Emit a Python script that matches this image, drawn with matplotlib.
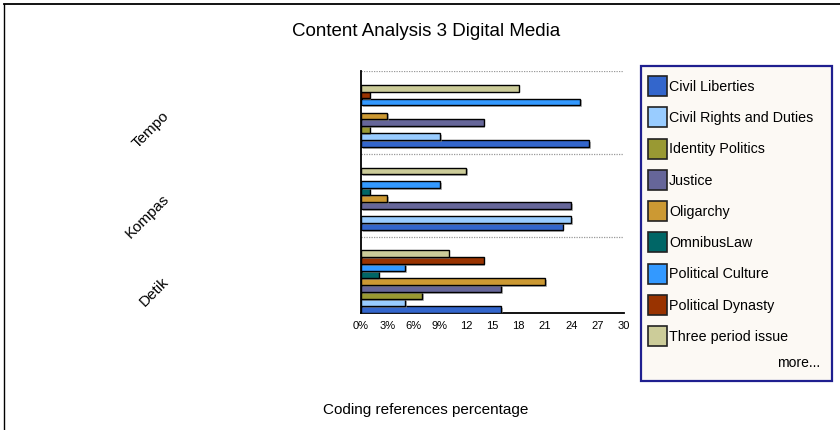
import matplotlib
matplotlib.use("Agg")
import matplotlib.pyplot as plt
from matplotlib.patches import Rectangle
from matplotlib.lines import Line2D
import matplotlib.patheffects as pe
import numpy as np

plt.rcParams['font.family'] = ['Liberation Sans', 'DejaVu Sans']

# ---- data ----
media = ["Detik", "Kompas", "Tempo"]          # bottom -> top
series = ["Civil Liberties", "Civil Rights and Duties", "Identity Politics",
          "Justice", "Oligarchy", "OmnibusLaw", "Political Culture",
          "Political Dynasty", "Three period issue"]
colors = ["#3366CC", "#99CCFF", "#999933", "#666699", "#CC9933",
          "#006666", "#3399FF", "#993300", "#CCCC99"]
civil_liberties = [16, 23, 26]
civil_rights = [5, 24, 9]
identity_politics = [7, 0, 1]
justice = [16, 24, 14]
oligarchy = [21, 3, 3]
omnibus_law = [2, 1, 0]
political_culture = [5, 9, 25]
political_dynasty = [14, 0, 1]
three_period = [10, 12, 18]
values = [civil_liberties, civil_rights, identity_politics, justice, oligarchy,
          omnibus_law, political_culture, political_dynasty, three_period]
xticks = [0, 3, 6, 9, 12, 15, 18, 21, 24, 27, 30]
xticklabels = ["0%", "3%", "6%", "9%", "12", "15", "18", "21", "24", "27", "30"]

W, H = 840, 431
fig = plt.figure(figsize=(W / 100, H / 100), dpi=100)

def fx(px):
    return px / W

def fy(py):
    return 1 - py / H

ax = fig.add_axes([fx(361), fy(314), fx(624) - fx(361), fy(72) - fy(314)])

nslots = 10
slot = 7.0 / 83.5
bar_h = 0.082
shadow = [pe.SimplePatchShadow(offset=(1.2, -1.2), shadow_rgbFace='#888888', alpha=0.6), pe.Normal()]
g = np.arange(len(media))
for s, (name, col, vals) in enumerate(zip(series, colors, values)):
    y = g + (s - (nslots - 1) / 2) * slot
    bars = ax.barh(y, vals, height=bar_h, color=col, edgecolor='black', linewidth=1.0, zorder=3)
    for b in bars:
        if b.get_width() > 0:
            b.set_path_effects(shadow)
        else:
            b.set_visible(False)

ax.set_xlim(0, 30)
ax.set_ylim(-0.42, 2.5)
for yb in [0.5, 1.5, 2.5]:
    ax.axhline(yb, color='#999999', linestyle=(0, (1, 1)), linewidth=0.9, zorder=1)

ax.set_xticks(xticks)
ax.set_xticklabels(xticklabels, fontsize=8)
ax.tick_params(axis='x', length=0, pad=5)
ax.set_yticks(g)
ax.set_yticklabels(media, fontsize=11, rotation=45, ha='right', va='center',
                   rotation_mode='anchor')
ax.tick_params(axis='y', length=0, pad=140)
for sp in ['top', 'right']:
    ax.spines[sp].set_visible(False)
ax.spines['left'].set_linewidth(1.3)
ax.spines['bottom'].set_linewidth(1.3)

fig.text(fx(426), fy(32), "Content Analysis 3 Digital Media", fontsize=13.5,
         ha='center', va='center')
fig.text(fx(426), fy(410), "Coding references percentage", fontsize=11,
         ha='center', va='center')

# legend
fig.add_artist(Rectangle((fx(641), fy(382)), fx(832) - fx(641), fy(67) - fy(382),
                         transform=fig.transFigure, facecolor='#FCF9F4',
                         edgecolor='#1F1F8F', linewidth=1.6))
for i, (name, col) in enumerate(zip(series, colors)):
    cy = 87 + i * 31.25
    fig.add_artist(Rectangle((fx(648), fy(cy + 10)), fx(667) - fx(648), fy(cy - 10) - fy(cy + 10),
                             transform=fig.transFigure, facecolor=col,
                             edgecolor='#222222', linewidth=1.2))
    fig.text(fx(669), fy(cy), name, fontsize=10.3, ha='left', va='center')
fig.text(fx(820), fy(363), "more...", fontsize=10, ha='right', va='center')

# outer frame
fig.add_artist(Line2D([fx(4), fx(840)], [fy(4.5), fy(4.5)], transform=fig.transFigure,
                      color='black', linewidth=1.3))
fig.add_artist(Line2D([fx(3.5), fx(3.5)], [fy(4.5), fy(431)], transform=fig.transFigure,
                      color='black', linewidth=1.0))

fig.savefig("out.png", dpi=100)
